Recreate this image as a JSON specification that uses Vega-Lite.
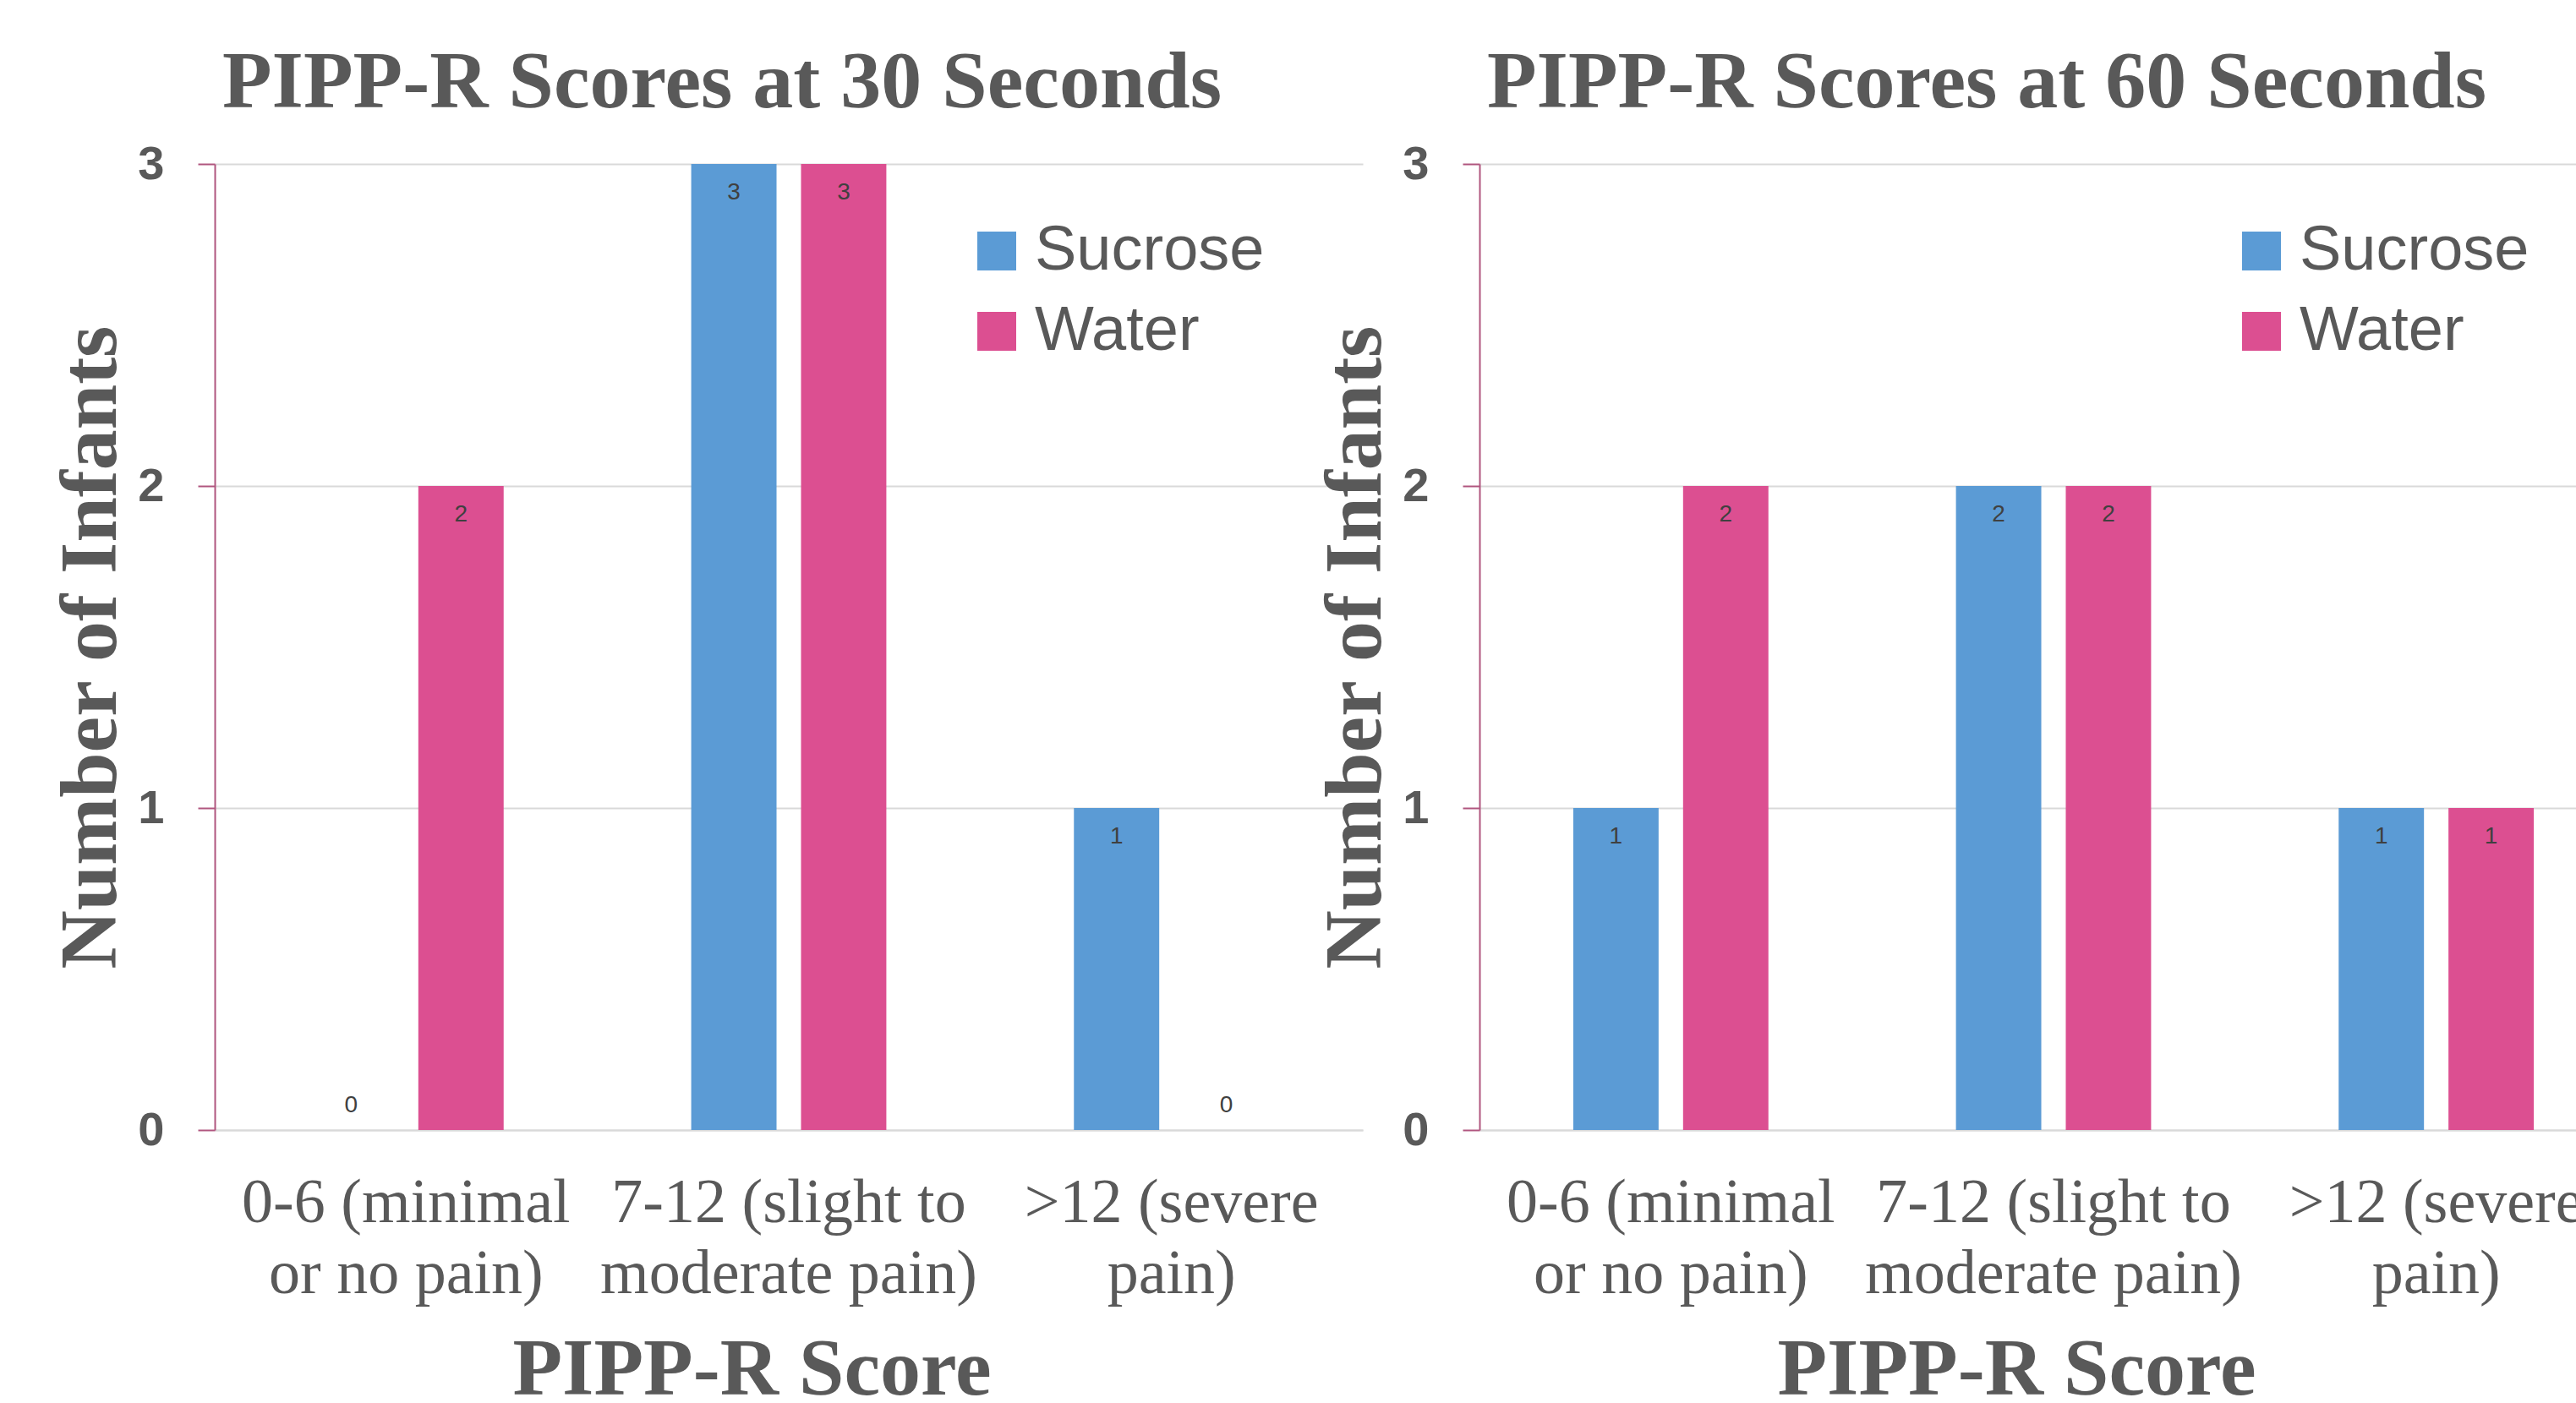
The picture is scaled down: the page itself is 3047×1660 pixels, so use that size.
{
  "$schema": "https://vega.github.io/schema/vega-lite/v6.json",
  "background": "white",
  "padding": {"left": 59, "top": 50, "right": 0, "bottom": 0},
  "datasets": {
    "pipp": [
      {"time": "30 Seconds", "score": "0-6 (minimal or no pain)", "substance": "Sucrose", "count": 0},
      {"time": "30 Seconds", "score": "0-6 (minimal or no pain)", "substance": "Water", "count": 2},
      {"time": "30 Seconds", "score": "7-12 (slight to moderate pain)", "substance": "Sucrose", "count": 3},
      {"time": "30 Seconds", "score": "7-12 (slight to moderate pain)", "substance": "Water", "count": 3},
      {"time": "30 Seconds", "score": ">12 (severe pain)", "substance": "Sucrose", "count": 1},
      {"time": "30 Seconds", "score": ">12 (severe pain)", "substance": "Water", "count": 0},
      {"time": "60 Seconds", "score": "0-6 (minimal or no pain)", "substance": "Sucrose", "count": 1},
      {"time": "60 Seconds", "score": "0-6 (minimal or no pain)", "substance": "Water", "count": 2},
      {"time": "60 Seconds", "score": "7-12 (slight to moderate pain)", "substance": "Sucrose", "count": 2},
      {"time": "60 Seconds", "score": "7-12 (slight to moderate pain)", "substance": "Water", "count": 2},
      {"time": "60 Seconds", "score": ">12 (severe pain)", "substance": "Sucrose", "count": 1},
      {"time": "60 Seconds", "score": ">12 (severe pain)", "substance": "Water", "count": 1}
    ]
  },
  "spacing": 138,
  "bounds": "flush",
  "resolve": {"scale": {"color": "independent"}, "legend": {"color": "independent"}},
  "hconcat": [
    {
      "width": 1358,
      "height": 1143,
      "data": {"name": "pipp"},
      "transform": [{"filter": "datum.time == '30 Seconds'"}],
      "title": {"text": "PIPP-R Scores at 30 Seconds"},
      "encoding": {
        "x": {"field": "score", "type": "nominal", "sort": ["0-6 (minimal or no pain)", "7-12 (slight to moderate pain)", ">12 (severe pain)"], "scale": {"paddingInner": 0, "paddingOuter": 0}, "axis": {"title": "PIPP-R Score"}},
        "xOffset": {"field": "substance", "type": "nominal", "sort": ["Sucrose", "Water"], "scale": {"paddingInner": 0.223, "paddingOuter": 0.854}},
        "y": {"field": "count", "type": "quantitative", "scale": {"domain": [0, 3]}, "axis": {"title": "Number of Infants", "values": [0, 1, 2, 3]}}
      },
      "layer": [
        {"mark": {"type": "bar"}, "encoding": {"color": {"field": "substance", "type": "nominal", "scale": {"domain": ["Sucrose", "Water"], "range": ["#5B9BD5", "#DC4F91"]}}}},
        {"transform": [{"filter": "datum.count > 0"}], "mark": {"type": "text", "dy": 34, "baseline": "middle"}, "encoding": {"text": {"field": "count", "type": "quantitative"}}},
        {"transform": [{"filter": "datum.count == 0"}], "mark": {"type": "text", "dy": -29, "baseline": "middle"}, "encoding": {"text": {"field": "count", "type": "quantitative"}}}
      ]
    },
    {
      "width": 1358,
      "height": 1143,
      "data": {"name": "pipp"},
      "transform": [{"filter": "datum.time == '60 Seconds'"}],
      "title": {"text": "PIPP-R Scores at 60 Seconds"},
      "encoding": {
        "x": {"field": "score", "type": "nominal", "sort": ["0-6 (minimal or no pain)", "7-12 (slight to moderate pain)", ">12 (severe pain)"], "scale": {"paddingInner": 0, "paddingOuter": 0}, "axis": {"title": "PIPP-R Score"}},
        "xOffset": {"field": "substance", "type": "nominal", "sort": ["Sucrose", "Water"], "scale": {"paddingInner": 0.223, "paddingOuter": 0.854}},
        "y": {"field": "count", "type": "quantitative", "scale": {"domain": [0, 3]}, "axis": {"title": "Number of Infants", "values": [0, 1, 2, 3]}}
      },
      "layer": [
        {"mark": {"type": "bar"}, "encoding": {"color": {"field": "substance", "type": "nominal", "scale": {"domain": ["Sucrose", "Water"], "range": ["#5B9BD5", "#DC4F91"]}}}},
        {"transform": [{"filter": "datum.count > 0"}], "mark": {"type": "text", "dy": 34, "baseline": "middle"}, "encoding": {"text": {"field": "count", "type": "quantitative"}}},
        {"transform": [{"filter": "datum.count == 0"}], "mark": {"type": "text", "dy": -29, "baseline": "middle"}, "encoding": {"text": {"field": "count", "type": "quantitative"}}}
      ]
    }
  ],
  "config": {
    "view": {"stroke": null},
    "text": {"font": "Liberation Sans", "fontSize": 28, "color": "#404040"},
    "title": {"font": "Liberation Serif", "fontSize": 96, "fontWeight": "bold", "color": "#595959", "anchor": "middle", "frame": "group", "dx": -79, "offset": 19, "baseline": "alphabetic"},
    "axisX": {
      "domain": true, "domainColor": "#D9D9D9", "domainWidth": 2, "ticks": false, "grid": false,
      "labelAngle": 0, "labelFont": "Liberation Serif", "labelFontSize": 74, "labelColor": "#595959", "labelLineHeight": 84, "labelPadding": 50, "labelLimit": 0,
      "labelExpr": "datum.value == '0-6 (minimal or no pain)' ? ['0-6 (minimal', 'or no pain)'] : datum.value == '7-12 (slight to moderate pain)' ? ['7-12 (slight to', 'moderate pain)'] : ['>12 (severe', 'pain)']",
      "titleFont": "Liberation Serif", "titleFontSize": 96, "titleFontWeight": "bold", "titleColor": "#595959", "titlePadding": 36, "titleX": 635
    },
    "axisY": {
      "domain": true, "domainColor": "#B0567F", "domainWidth": 2, "ticks": true, "tickColor": "#B0567F", "tickWidth": 2, "tickSize": 20,
      "grid": true, "gridColor": "#D9D9D9", "gridWidth": 2,
      "labelFont": "Liberation Sans", "labelFontWeight": "bold", "labelFontSize": 56, "labelColor": "#595959", "labelPadding": 40,
      "titleFont": "Liberation Serif", "titleFontSize": 96, "titleFontWeight": "bold", "titleColor": "#595959", "titlePadding": 6
    },
    "legend": {
      "orient": "none", "legendX": 888, "legendY": 66, "title": null,
      "symbolType": "square", "symbolSize": 2116, "symbolStrokeWidth": 0, "symbolOpacity": 1,
      "labelFont": "Liberation Sans", "labelFontSize": 74, "labelColor": "#595959", "labelOffset": 8, "rowPadding": 21, "labelLimit": 0
    }
  }
}
